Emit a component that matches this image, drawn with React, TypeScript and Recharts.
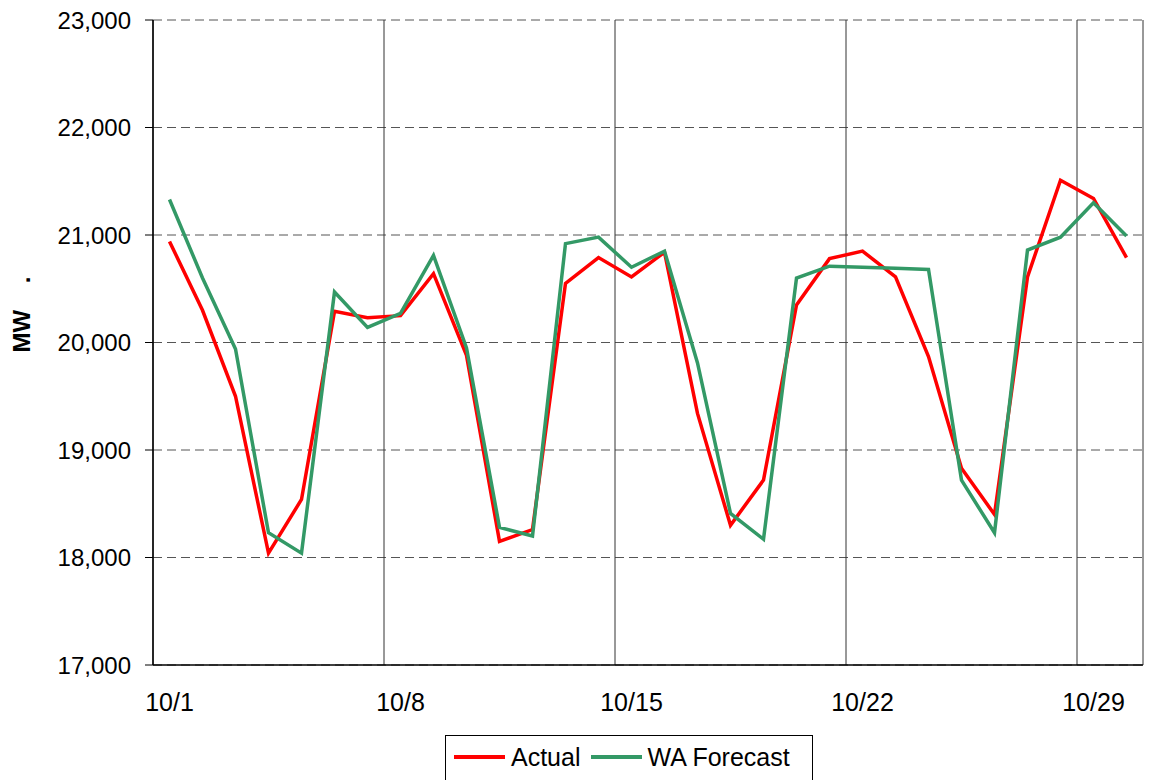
import React from 'react'
import {
  CartesianGrid,
  Legend,
  Line,
  LineChart,
  XAxis,
  YAxis,
} from 'recharts'

const dates = [
  '10/1', '10/2', '10/3', '10/4', '10/5', '10/6', '10/7', '10/8', '10/9', '10/10',
  '10/11', '10/12', '10/13', '10/14', '10/15', '10/16', '10/17', '10/18', '10/19', '10/20',
  '10/21', '10/22', '10/23', '10/24', '10/25', '10/26', '10/27', '10/28', '10/29', '10/30',
]

const actual = [
  20940, 20300, 19500, 18040, 18540, 20290, 20230, 20250, 20640, 19880,
  18150, 18260, 20550, 20790, 20610, 20840, 19340, 18300, 18720, 20350,
  20780, 20850, 20610, 19870, 18830, 18400, 20610, 21510, 21340, 20790,
]

const forecast = [
  21330, 20600, 19940, 18230, 18040, 20470, 20140, 20270, 20810, 19950,
  18280, 18200, 20920, 20980, 20700, 20850, 19810, 18410, 18170, 20600,
  20710, 20700, 20690, 20680, 18720, 18230, 20860, 20980, 21300, 20990,
]

const yTicks = [17000, 18000, 19000, 20000, 21000, 22000, 23000]
// week boundaries (gridlines, tick marks) and the labelled days in between
const weekStarts = [0, 7, 14, 21, 28]
const labelTicks = weekStarts.map(d => d + 0.5)

// points sit in the middle of each day, as in the Excel date axis
const data = dates.map((date, i) => ({
  x: i + 0.5,
  date,
  actual: actual[i],
  forecast: forecast[i],
}))

const font = '"Liberation Sans", Arial, sans-serif'

const fmt = (v: number) => v.toLocaleString('en-US')

const LegendBox = () => (
  <div
    style={{
      boxSizing: 'border-box',
      width: 368,
      height: 48,
      border: '1px solid #000',
      background: '#fff',
      display: 'flex',
      alignItems: 'center',
      paddingLeft: 8,
      paddingBottom: 4,
      fontFamily: font,
      fontSize: 25,
      color: '#000',
    }}
  >
    <span style={{ width: 51, height: 4, background: '#ff0000', display: 'inline-block' }} />
    <span style={{ marginLeft: 6 }}>Actual</span>
    <span style={{ marginLeft: 11, width: 51, height: 4, background: '#339966', display: 'inline-block' }} />
    <span style={{ marginLeft: 5 }}>WA Forecast</span>
  </div>
)

const YTitle = (props: any) => {
  const { viewBox } = props
  const cx = viewBox.x + 21
  const cy = viewBox.y + viewBox.height / 2 - 28
  return (
    <text
      x={cx}
      y={cy}
      transform={`rotate(-90, ${cx}, ${cy})`}
      textAnchor="middle"
      dominantBaseline="central"
      fontFamily={font}
      fontWeight="bold"
      fontSize={24}
      fill="#000"
    >
      {'MW\u00A0\u00A0\u00A0\u00A0.'}
    </text>
  )
}

export default function App() {
  return (
    <div style={{ position: 'absolute', left: 0, top: 0, width: 1150, height: 780, overflow: 'hidden', background: '#fff' }}>
      <LineChart
        width={1150}
        height={780}
        data={data}
        margin={{ top: 20, right: 7, left: 0, bottom: 0 }}
        style={{ fontFamily: font }}
      >
        <CartesianGrid
          vertical={false}
          stroke="#555"
          strokeDasharray="9 5"
        />
        <CartesianGrid
          xAxisId="b"
          horizontal={false}
          stroke="#333"
        />
        <XAxis
          xAxisId="b"
          type="number"
          dataKey="x"
          domain={[0, 30]}
          ticks={weekStarts}
          tick={() => <g />}
          tickSize={8}
          tickLine={{ stroke: '#000' }}
          axisLine={false}
          height={0}
        />
        <XAxis
          type="number"
          dataKey="x"
          domain={[0, 30]}
          ticks={labelTicks}
          tickFormatter={v => dates[Math.floor(v)]}
          tickLine={false}
          tickSize={8}
          tickMargin={20}
          axisLine={{ stroke: '#000', strokeWidth: 1.5 }}
          tick={{ fill: '#000', fontSize: 25 }}
          height={115}
        />
        <XAxis
          xAxisId="top"
          orientation="top"
          type="number"
          dataKey="x"
          domain={[0, 30]}
          tick={false}
          tickLine={false}
          axisLine={{ stroke: '#000', strokeWidth: 1.5 }}
          height={0}
        />
        <YAxis
          domain={[17000, 23000]}
          ticks={yTicks}
          tickFormatter={fmt}
          tickSize={8}
          tickMargin={14}
          tickLine={{ stroke: '#000' }}
          axisLine={{ stroke: '#000', strokeWidth: 1.5 }}
          tick={{ fill: '#000', fontSize: 24 }}
          width={153}
          label={<YTitle />}
        />
        <YAxis
          yAxisId="r"
          orientation="right"
          domain={[17000, 23000]}
          tick={false}
          tickLine={false}
          axisLine={{ stroke: '#000', strokeWidth: 1.5 }}
          width={0}
        />
        <Legend
          layout="horizontal"
          verticalAlign="middle"
          align="center"
          content={<LegendBox />}
          wrapperStyle={{ left: 445, top: 735, width: 368, height: 48 }}
        />
        <Line
          type="linear"
          dataKey="actual"
          name="Actual"
          stroke="#ff0000"
          strokeWidth={3.5}
          dot={false}
          activeDot={false}
          isAnimationActive={false}
        />
        <Line
          type="linear"
          dataKey="forecast"
          name="WA Forecast"
          stroke="#339966"
          strokeWidth={3.5}
          dot={false}
          activeDot={false}
          isAnimationActive={false}
        />
      </LineChart>
    </div>
  )
}
